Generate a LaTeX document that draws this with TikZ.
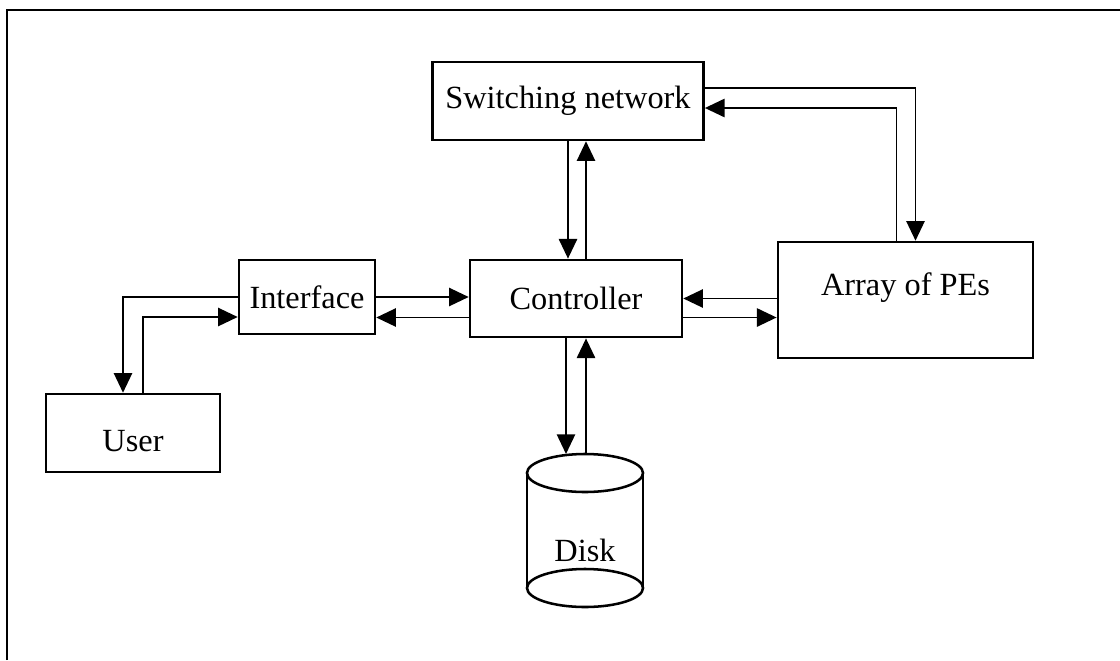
\documentclass[tikz,border=0pt]{standalone}
\usepackage{fontspec}
\setmainfont{Liberation Serif}
\usetikzlibrary{arrows.meta}

\tikzset{
  txt/.style = {font=\fontsize{23}{27}\selectfont},
  blk/.style = {txt, draw, line width=1.8pt, inner sep=0pt},
  lnk/.style = {line width=1.3pt, ->},
}

\begin{document}
\begin{tikzpicture}[x=0.025cm, y=-0.025cm, >={Triangle[length=14pt,width=13pt]}]
    \useasboundingbox (0,0) rectangle (1120,660);
    \draw[line width=2pt] (7,660) -- (7,10) -- (1120,10);

    \node[blk, minimum width=6.78cm, minimum height=1.95cm] (sw) at (568,101) {Switching network};
    \node[blk, minimum width=5.3cm, minimum height=1.93cm] (ctl) at (576,298.5) {Controller};
    \node[blk, minimum width=3.4cm, minimum height=1.85cm] (ifc) at (307,297) {Interface};
    \node[blk, minimum width=4.35cm, minimum height=1.95cm, text height=26pt] (usr) at (133,433) {User};
    \node[blk, minimum width=6.38cm, minimum height=2.9cm, text depth=23pt] (pes) at (905.5,300) {Array of PEs};

    \draw[line width=1.8pt] (585,473) ellipse [x radius=1.45cm, y radius=0.475cm];
    \draw[line width=1.8pt] (527,473) -- (527,588);
    \draw[line width=1.8pt] (643,473) -- (643,588);
    \draw[line width=1.8pt] (585,588) ellipse [x radius=1.45cm, y radius=0.475cm];
    \node[txt] (dsk) at (585,550) {Disk};
    \coordinate (dtop) at (585,454);

    \draw[lnk] (sw.south) -- (sw.south |- ctl.north);
    \draw[lnk] ([xshift=0.45cm]sw.south |- ctl.north) -- ([xshift=0.45cm]sw.south);

    \draw[lnk] ([yshift=0.325cm]sw.east) -| ([xshift=0.25cm]pes.north);
    \draw[lnk] ([xshift=-0.225cm]pes.north) |- ([yshift=-0.175cm]sw.east);

    \draw[lnk] (ifc.east) -- (ifc.east -| ctl.west);
    \draw[lnk] ([yshift=-0.475cm]ctl.west) -- ([yshift=-0.475cm]ctl.west -| ifc.east);
    \draw[lnk] (pes.west |- ctl.east) -- (ctl.east);
    \draw[lnk] ([yshift=-0.475cm]ctl.east) -- ([yshift=-0.475cm]ctl.east -| pes.west);

    \draw[lnk] (ifc.west) -| ([xshift=-0.25cm]usr.north);
    \draw[lnk] ([xshift=0.25cm]usr.north) |- ([yshift=-0.5cm]ifc.west);

    \draw[lnk] ([xshift=-0.25cm]ctl.south) -- ([xshift=-0.25cm]ctl.south |- dtop);
    \draw[lnk] ([xshift=0.25cm]ctl.south |- dtop) -- ([xshift=0.25cm]ctl.south);
\end{tikzpicture}
\end{document}
